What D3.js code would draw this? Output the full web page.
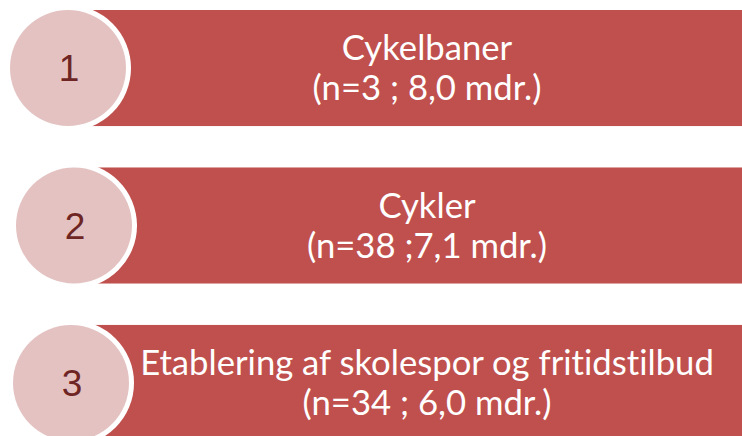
<!DOCTYPE html>
<html>
<head>
<meta charset="utf-8">
<script src="https://cdn.jsdelivr.net/npm/d3@7"></script>
<style>
  html, body { margin: 0; padding: 0; background: #fff; }
  svg { display: block; }
  text.lbl { font-variant-ligatures: none; font-feature-settings: "liga" 0; }
</style>
</head>
<body>
<svg id="chart" width="742" height="436"></svg>
<script>
// data
var ranks = [1, 2, 3];
var categories = ["Cykelbaner", "Cykler", "Etablering af skolespor og fritidstilbud"];
var details = ["(n=3 ; 8,0 mdr.)", "(n=38 ;7,1 mdr.)", "(n=34 ; 6,0 mdr.)"];

const main = function(){
  var svg = d3.select('#chart');
  var width = 742;

  var y = d3.scaleBand()
    .domain(ranks)
    .range([10, 441])
    .paddingInner(0.263)
    .paddingOuter(0);

  // circle centres wobble a little in the original
  var cx = [68, 74, 71];
  var r = 58;
  var textX = 427;

  var rows = svg.selectAll("g.row")
    .data(ranks)
    .enter().append("g")
    .attr("class", "row");

  rows.append("rect")
    .attr("x", (d, i) => cx[i])
    .attr("y", d => y(d))
    .attr("width", (d, i) => width - cx[i])
    .attr("height", y.bandwidth())
    .attr("fill", "#c0504d");

  rows.append("circle")
    .attr("cx", (d, i) => cx[i])
    .attr("cy", d => y(d) + y.bandwidth() / 2)
    .attr("r", r + 5)
    .attr("fill", "#fff");

  rows.append("circle")
    .attr("cx", (d, i) => cx[i])
    .attr("cy", d => y(d) + y.bandwidth() / 2)
    .attr("r", r)
    .attr("fill", "#e4c2c2");

  rows.append("text")
    .attr("x", (d, i) => cx[i] + 1)
    .attr("y", d => y(d) + y.bandwidth() / 2)
    .attr("dy", "0.36em")
    .attr("text-anchor", "middle")
    .attr("font-family", "'Liberation Sans', Arial, sans-serif")
    .attr("font-size", 37)
    .attr("fill", "#6e2523")
    .text(d => d);

  var line1 = rows.append("text")
    .attr("class", "lbl")
    .attr("x", textX)
    .attr("y", d => y(d) + y.bandwidth() / 2 - 20)
    .attr("dy", "0.35em")
    .text((d, i) => categories[i]);

  var line2 = rows.append("text")
    .attr("class", "lbl")
    .attr("x", textX)
    .attr("y", d => y(d) + y.bandwidth() / 2 + 20)
    .attr("dy", "0.35em")
    .text((d, i) => details[i]);

  var labels = svg.selectAll("text.lbl")
    .attr("text-anchor", "middle")
    .attr("font-family", "Lato, 'Open Sans', sans-serif")
    .attr("font-size", 30)
    .attr("fill", "#fff");

  // fit the longest line to the width in the original
  var longest = line1.filter((d, i) => i === 2).node().getComputedTextLength();
  var fs = 30 * 574 / longest;
  labels.attr("font-size", fs);
  console.log("label font size", fs);
};

main();
</script>
</body>
</html>
